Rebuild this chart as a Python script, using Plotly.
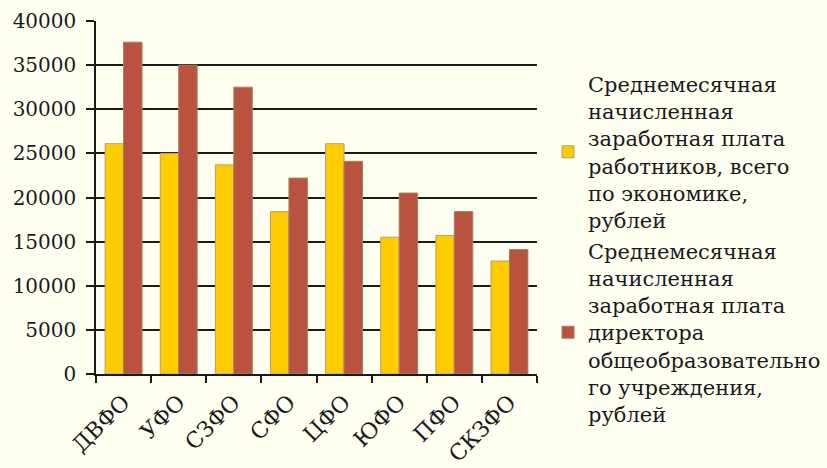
import plotly.graph_objects as go

categories = ["ДВФО", "УФО", "СЗФО", "СФО", "ЦФО", "ЮФО", "ПФО", "СКЗФО"]
avg_salary = [26100, 25000, 23700, 18400, 26100, 15500, 15700, 12800]
director_salary = [37600, 35000, 32500, 22200, 24100, 20500, 18400, 14100]
series_names = [
    "Среднемесячная<br>начисленная<br>заработная плата<br>работников, всего<br>по экономике,<br>рублей",
    "Среднемесячная<br>начисленная<br>заработная плата<br>директора<br>общеобразовательно<br>го учреждения,<br>рублей",
]
y_ticks = [0, 5000, 10000, 15000, 20000, 25000, 30000, 35000, 40000]

BG = "#FFFFF2"
FONT = "DejaVu Serif"

fig = go.Figure()
fig.add_trace(go.Bar(x=categories, y=avg_salary, name=series_names[0],
                     marker=dict(color="#FFCC00", line=dict(color="#B8A070", width=1))))
fig.add_trace(go.Bar(x=categories, y=director_salary, name=series_names[1],
                     marker=dict(color="#B9523E", line=dict(color="#A08060", width=1))))

fig.update_layout(
    width=827, height=468,
    paper_bgcolor=BG, plot_bgcolor=BG,
    margin=dict(l=96, r=290, t=21, b=94, autoexpand=False),
    barmode="group", bargap=0.33, bargroupgap=0,
    font=dict(family=FONT, size=20, color="#1a1a1a"),
    legend=dict(x=1.025, xanchor="left", y=0.88, yanchor="top",
                bgcolor="rgba(0,0,0,0)", valign="middle",
                font=dict(family=FONT, size=21, color="#1a1a1a"),
                tracegroupgap=0, maxheight=468),
    showlegend=True,
)
fig.update_xaxes(
    type="category", tickangle=-45, tickson="boundaries",
    ticks="outside", ticklen=7, tickcolor="#1a1a1a", tickwidth=1.5,
    showline=True, linecolor="#1a1a1a", linewidth=1.5,
    showgrid=False, tickfont=dict(family=FONT, size=22), automargin=False,
    ticklabelstandoff=5,
)
fig.update_yaxes(
    range=[0, 40000], tickvals=y_ticks, ticktext=[str(v) for v in y_ticks],
    ticks="outside", ticklen=8, tickcolor="#1a1a1a", tickwidth=1.5,
    showline=True, linecolor="#1a1a1a", linewidth=1.5,
    showgrid=True, gridcolor="#1a1a1a", gridwidth=1.5,
    zeroline=False, tickfont=dict(family=FONT, size=20),
    ticklabelstandoff=6, automargin=False,
)

fig.write_html(
    "out.html",
    config={"displayModeBar": False},
    post_script="document.body.style.margin='0';document.body.style.background='#FFFFF2';",
)
